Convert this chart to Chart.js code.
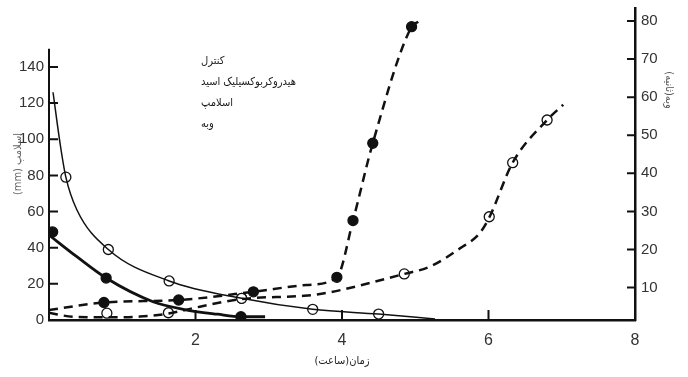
<!DOCTYPE html>
<html lang="fa">
<head>
<meta charset="utf-8">
<script src="https://cdn.jsdelivr.net/npm/chart.js@4.4.1/dist/chart.umd.min.js"></script>
<style>
  html, body { margin: 0; padding: 0; background: #fff; }
  #wrap { position: relative; width: 688px; height: 377px; }
</style>
</head>
<body>
<div id="wrap"><canvas id="chart" width="688" height="377"></canvas></div>
<script>
// ============================================================
// اسلامپ و وبه بتن در طول زمان — کنترل در برابر هیدروکربوکسیلیک اسید
// مقادیر از روی شکل خوانده شده‌اند (تقریبی)
// ============================================================

const TIME_TICKS = [2, 4, 6, 8];
const SLUMP_TICKS = [0, 20, 40, 60, 80, 100, 120, 140];
const VEBE_TICKS = [10, 20, 30, 40, 50, 60, 70, 80];
const LEGEND_LINES = ['کنترل', 'هیدروکربوکسیلیک اسید', 'اسلامپ', 'وبه'];

// اسلامپ (mm) — کنترل، دایره توپر
const controlSlumpT = [0.05, 0.78, 2.62];
const controlSlumpMm = [48.7, 23.2, 1.8];
const controlSlumpLineT = [0, 0.38, 0.78, 1.42, 1.85, 2.3, 2.62, 2.95];
const controlSlumpLineMm = [47, 35, 23.2, 10.1, 5.8, 3.2, 1.8, 1.8];

// اسلامپ (mm) — هیدروکربوکسیلیک اسید، دایره توخالی
const acidSlumpT = [0.23, 0.81, 1.64, 2.63, 3.6, 4.5];
const acidSlumpMm = [79, 39, 21.6, 12, 5.9, 3.3];
const acidSlumpLineT = [0.055, 0.15, 0.23, 0.38, 0.81, 1.64, 2.63, 3.6, 4.5, 5.27];
const acidSlumpLineMm = [126, 98, 79, 61, 39, 21.6, 12, 5.9, 3.3, 0.6];

// وبه (ثانیه) — کنترل، دایره توپر
const controlVebeT = [0.75, 1.77, 2.79, 3.93, 4.15, 4.42, 4.95];
const controlVebeS = [6.1, 6.75, 8.9, 12.7, 27.6, 47.9, 78.5];
const controlVebeLineT = [0, 0.75, 1.77, 2.79, 3.52, 3.93, 4.15, 4.42, 4.95, 5.04];
const controlVebeLineS = [4.1, 6.1, 6.75, 8.9, 10.7, 12.7, 27.6, 47.9, 78.5, 79.8];

// وبه (ثانیه) — هیدروکربوکسیلیک اسید، دایره توخالی
const acidVebeT = [0.79, 1.63, 2.63, 4.85, 6.01, 6.33, 6.8];
const acidVebeS = [3.3, 3.4, 7.2, 13.6, 28.6, 42.8, 54.0];
const acidVebeLineT = [0, 0.35, 0.79, 1.24, 1.63, 2.06, 2.63, 3.43, 3.7, 4.85, 5.2, 5.61, 5.88, 6.01, 6.33, 6.8, 7.02];
const acidVebeLineS = [3.4, 2.3, 2.2, 2.4, 3.2, 5.0, 7.0, 7.8, 8.3, 13.6, 15.5, 20.3, 24.3, 28.4, 42.8, 54, 58];

const pts = (xs, ys) => xs.map((x, i) => ({ x, y: ys[i] }));

const INK = '#111';
const TICK_FONT = { family: 'Liberation Sans, Arial, sans-serif', size: 15 };
const FA_FONT = 'DejaVu Sans Condensed, DejaVu Sans, sans-serif';

function lineSet(xs, ys, axis, width, dashed) {
  return {
    data: pts(xs, ys),
    yAxisID: axis,
    borderColor: INK,
    borderWidth: width,
    borderDash: dashed ? [9, 6] : [],
    pointRadius: 0,
    cubicInterpolationMode: 'monotone',
    fill: false,
  };
}

function markerSet(xs, ys, axis, filled) {
  return {
    data: pts(xs, ys),
    yAxisID: axis,
    showLine: false,
    pointRadius: 5,
    pointBorderWidth: 1.3,
    pointBorderColor: INK,
    pointBackgroundColor: filled ? INK : '#fff',
  };
}

// بدون فاصله اضافی برای برچسب‌ها تا ناحیه رسم دقیق بماند
function fixBox(size, key) {
  return s => {
    s[key] = size;
    s.paddingTop = 0; s.paddingBottom = 0; s.paddingLeft = 0; s.paddingRight = 0;
  };
}

// تیک‌های رو به داخل، خط محور چپ، عنوان محور راست و راهنما
const axisDecor = {
  id: 'axisDecor',
  afterDraw(chart) {
    const { ctx, chartArea: a, scales } = chart;
    const { x, ySlump, yVebe } = scales;
    ctx.save();
    ctx.strokeStyle = INK;
    ctx.lineWidth = 2;
    ctx.beginPath();
    ctx.moveTo(a.left, ySlump.getPixelForValue(150));
    ctx.lineTo(a.left, a.bottom + 1);
    SLUMP_TICKS.slice(1).forEach(v => {
      const py = ySlump.getPixelForValue(v);
      ctx.moveTo(a.left, py); ctx.lineTo(a.left + 9, py);
    });
    VEBE_TICKS.forEach(v => {
      const py = yVebe.getPixelForValue(v);
      ctx.moveTo(a.right, py); ctx.lineTo(a.right - 8, py);
    });
    TIME_TICKS.slice(0, 3).forEach(v => {
      const px = x.getPixelForValue(v);
      ctx.moveTo(px, a.bottom); ctx.lineTo(px, a.bottom - 10);
    });
    ctx.stroke();

    // عنوان محور راست
    ctx.fillStyle = '#555';
    ctx.font = '11px ' + FA_FONT;
    ctx.textAlign = 'center';
    ctx.textBaseline = 'middle';
    ctx.translate(669, 90);
    ctx.rotate(Math.PI / 2);
    ctx.fillText('وبه(ثانیه)', 0, 0);
    ctx.restore();

    // راهنما (فقط متن)
    ctx.save();
    ctx.fillStyle = '#1a1a1a';
    ctx.font = '11px ' + FA_FONT;
    ctx.textAlign = 'left';
    ctx.textBaseline = 'middle';
    LEGEND_LINES.forEach((t, i) => ctx.fillText(t, 201, 61 + i * 21));
    ctx.restore();
  },
};

new Chart(document.getElementById('chart'), {
  type: 'line',
  data: {
    datasets: [
      lineSet(acidSlumpLineT, acidSlumpLineMm, 'ySlump', 1.5, false),
      lineSet(controlSlumpLineT, controlSlumpLineMm, 'ySlump', 2.8, false),
      lineSet(controlVebeLineT, controlVebeLineS, 'yVebe', 2.5, true),
      lineSet(acidVebeLineT, acidVebeLineS, 'yVebe', 2.5, true),
      markerSet(controlSlumpT, controlSlumpMm, 'ySlump', true),
      markerSet(controlVebeT, controlVebeS, 'yVebe', true),
      markerSet(acidSlumpT, acidSlumpMm, 'ySlump', false),
      markerSet(acidVebeT, acidVebeS, 'yVebe', false),
    ],
  },
  options: {
    responsive: false,
    animation: false,
    layout: { padding: { top: 8, left: 0, right: 0, bottom: 0 } },
    plugins: { legend: { display: false }, tooltip: { enabled: false } },
    scales: {
      x: {
        type: 'linear',
        min: 0,
        max: 8,
        afterBuildTicks: s => { s.ticks = TIME_TICKS.map(v => ({ value: v })); },
        afterFit: fixBox(57, 'height'),
        grid: { display: false, drawTicks: false },
        border: { display: true, color: INK, width: 2.5 },
        ticks: { color: '#333', font: { ...TICK_FONT, size: 16 }, padding: 11, maxRotation: 0 },
        title: {
          display: true,
          text: 'زمان(ساعت)',
          color: '#222',
          font: { family: FA_FONT, size: 11 },
          padding: { top: 0, bottom: 9 },
        },
      },
      ySlump: {
        position: 'left',
        min: 0,
        max: 172.6,
        afterBuildTicks: s => { s.ticks = SLUMP_TICKS.map(v => ({ value: v })); },
        afterFit: fixBox(49, 'width'),
        grid: { display: false, drawTicks: false },
        border: { display: false },
        ticks: { color: '#333', font: TICK_FONT, padding: 5 },
        title: {
          display: true,
          text: '(mm) اسلامپ',
          color: '#666',
          font: { family: FA_FONT, size: 11 },
          padding: { top: 12 },
        },
      },
      yVebe: {
        position: 'right',
        min: 1.5,
        max: 83.4,
        afterBuildTicks: s => { s.ticks = VEBE_TICKS.map(v => ({ value: v })); },
        afterFit: fixBox(53, 'width'),
        grid: { display: false, drawTicks: false },
        border: { display: true, color: INK, width: 2.5 },
        ticks: { color: '#333', font: TICK_FONT, padding: 6 },
      },
    },
  },
  plugins: [axisDecor],
});
</script>
</body>
</html>
